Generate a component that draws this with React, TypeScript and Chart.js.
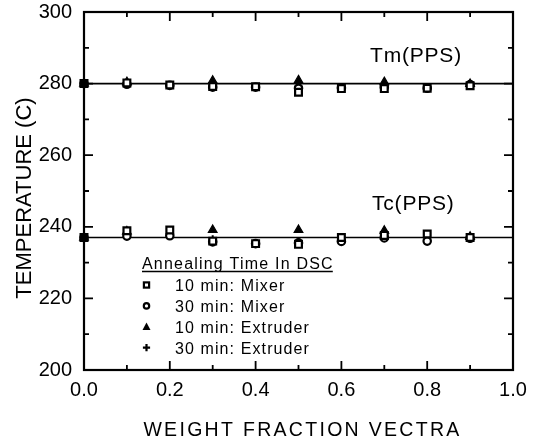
import React, { useEffect, useRef } from 'react';
import { Chart, registerables } from 'chart.js';

Chart.register(...registerables);

const FONT = '"Liberation Sans", Arial, Helvetica, sans-serif';

// ---- data ----
const mixerX = [0, 0.1, 0.2, 0.3, 0.4, 0.5, 0.6, 0.7, 0.8, 0.9];
const extruderX = [0, 0.1, 0.3, 0.5, 0.7, 0.9];

const tm10Mixer = [280.0, 280.2, 279.6, 279.2, 279.1, 277.6, 278.6, 278.6, 278.7, 279.4];
const tm30Mixer = [280.0, 279.8, 279.5, 279.0, 279.0, 278.7, 278.8, 279.0, 278.7, 279.7];
const tm10Extruder = [280.0, 280.4, 280.8, 280.9, 280.4, 279.9];
const tm30Extruder = [280.0, 280.0, 279.3, 279.2, 279.4, 279.5];

const tc10Mixer = [237.0, 238.9, 239.1, 236.0, 235.3, 235.1, 237.0, 237.6, 238.0, 237.0];
const tc30Mixer = [237.0, 237.4, 237.5, 235.8, 235.3, 235.5, 235.9, 236.9, 236.0, 236.8];
const tc10Extruder = [237.0, 238.7, 239.1, 239.1, 238.9, 237.2];
const tc30Extruder = [237.0, 238.0, 236.5, 236.0, 237.2, 236.7];

const fitX = [0, 1];
const tmFit = [280, 280];
const tcFit = [237, 237];

const seriesLabels = ['10 min: Mixer', '30 min: Mixer', '10 min: Extruder', '30 min: Extruder'];
const legendTitle = 'Annealing Time In DSC';
const curveLabels = ['Tm(PPS)', 'Tc(PPS)'];
const yTitle = 'TEMPERATURE (C)';
const xTitle = 'WEIGHT FRACTION VECTRA';

const yMin = 200;
const yMax = 300;
const yStep = 20;
const yMinor = 10;
const xMin = 0;
const xMax = 1;
const xStep = 0.2;
const xMinor = 0.1;

type Pt = { x: number; y: number };
const pts = (xs: number[], ys: number[]): Pt[] => xs.map((x, i) => ({ x, y: ys[i] }));

// pure PPS points (x = 0) print as a solid block where all markers overlap
const fillAtZero = (open: string) => (c: any) => (c.raw && c.raw.x === 0 ? '#000' : open);

const markerDefs = [
  { pointStyle: 'rect', pointRadius: 4.8, pointBorderWidth: 2.2, open: '#fff' },
  { pointStyle: 'circle', pointRadius: 3.7, pointBorderWidth: 2.2, open: '#fff' },
  { pointStyle: 'triangle', pointRadius: 5, pointBorderWidth: 1.2, open: '#000' },
  { pointStyle: 'cross', pointRadius: 4, pointBorderWidth: 2, open: '#000' },
];

function drawText(
  ctx: CanvasRenderingContext2D,
  text: string,
  x: number,
  y: number,
  size: number,
  spacing: number,
  align: CanvasTextAlign = 'left'
) {
  ctx.save();
  ctx.font = `${size}px ${FONT}`;
  (ctx as any).letterSpacing = `${spacing}px`;
  ctx.textAlign = align;
  ctx.textBaseline = 'alphabetic';
  ctx.fillStyle = '#000';
  ctx.fillText(text, x, y);
  const w = ctx.measureText(text).width;
  ctx.restore();
  return w;
}

const decorPlugin = {
  id: 'decor',
  beforeDatasetsDraw(chart: any) {
    const { ctx, chartArea } = chart;
    const xs = chart.scales.x;
    const ys = chart.scales.y;
    const { left, right, top, bottom } = chartArea;
    ctx.save();
    ctx.strokeStyle = '#000';
    ctx.lineWidth = 2.2;
    ctx.strokeRect(left, top, right - left, bottom - top);
    ctx.lineWidth = 1.8;
    for (let v = yMin + yMinor; v < yMax - 1e-9; v += yMinor) {
      const r = (v - yMin) / yStep;
      const major = Math.abs(r - Math.round(r)) < 1e-6;
      const len = major ? 9 : 5;
      const py = ys.getPixelForValue(v);
      ctx.beginPath();
      ctx.moveTo(left, py);
      ctx.lineTo(left + len, py);
      ctx.moveTo(right, py);
      ctx.lineTo(right - len, py);
      ctx.stroke();
    }
    for (let v = xMin + xMinor; v < xMax - 1e-9; v += xMinor) {
      const r = (v - xMin) / xStep;
      const major = Math.abs(r - Math.round(r)) < 1e-6;
      const len = major ? 9 : 5;
      const px = xs.getPixelForValue(v);
      ctx.beginPath();
      ctx.moveTo(px, bottom);
      ctx.lineTo(px, bottom - len);
      ctx.moveTo(px, top);
      ctx.lineTo(px, top + len);
      ctx.stroke();
    }
    ctx.restore();
  },
  afterDraw(chart: any) {
    const { ctx } = chart;
    drawText(ctx, curveLabels[0], 370, 61.5, 21, 0.8);
    drawText(ctx, curveLabels[1], 372, 210, 21, 0.8);

    const tw = drawText(ctx, legendTitle, 142, 268.5, 16, 1.2);
    ctx.save();
    ctx.strokeStyle = '#000';
    ctx.lineWidth = 1.3;
    ctx.beginPath();
    ctx.moveTo(142, 271.5);
    ctx.lineTo(142 + tw - 1, 271.5);
    ctx.stroke();
    ctx.restore();

    const rowStep = 20.9;
    seriesLabels.forEach((lab, i) => {
      const cy = 285 + i * rowStep;
      drawText(ctx, lab, 175, cy + 6, 16, 1.1);
      const mx = 146.5;
      ctx.save();
      ctx.strokeStyle = '#000';
      ctx.fillStyle = '#000';
      if (i === 0) {
        ctx.lineWidth = 2.2;
        ctx.strokeRect(mx - 2.6, cy - 2.6, 5.2, 5.2);
      } else if (i === 1) {
        ctx.lineWidth = 2.2;
        ctx.beginPath();
        ctx.arc(mx, cy, 2.7, 0, Math.PI * 2);
        ctx.stroke();
      } else if (i === 2) {
        ctx.beginPath();
        ctx.moveTo(mx, cy - 4.2);
        ctx.lineTo(mx + 4, cy + 3.2);
        ctx.lineTo(mx - 4, cy + 3.2);
        ctx.closePath();
        ctx.fill();
      } else {
        ctx.lineWidth = 2.2;
        ctx.beginPath();
        ctx.moveTo(mx - 3.6, cy);
        ctx.lineTo(mx + 3.6, cy);
        ctx.moveTo(mx, cy - 3.6);
        ctx.lineTo(mx, cy + 3.6);
        ctx.stroke();
      }
      ctx.restore();
    });

    drawText(ctx, xTitle, 302.5, 435.5, 19.5, 2.3, 'center');
    ctx.save();
    ctx.translate(30.5, 198);
    ctx.rotate(-Math.PI / 2);
    drawText(ctx, yTitle, 0, 0, 22, 0, 'center');
    ctx.restore();
  },
};

export default function App() {
  const ref = useRef<HTMLCanvasElement | null>(null);

  useEffect(() => {
    if (!ref.current) return;
    const groups = [
      [pts(mixerX, tm10Mixer), pts(mixerX, tm30Mixer), pts(extruderX, tm10Extruder), pts(extruderX, tm30Extruder)],
      [pts(mixerX, tc10Mixer), pts(mixerX, tc30Mixer), pts(extruderX, tc10Extruder), pts(extruderX, tc30Extruder)],
    ];
    const datasets: any[] = [];
    groups.forEach((g, gi) => {
      g.forEach((data, si) => {
        const m = markerDefs[si];
        datasets.push({
          label: `${gi === 0 ? 'Tm' : 'Tc'} ${seriesLabels[si]}`,
          data,
          showLine: false,
          borderColor: '#000',
          pointStyle: m.pointStyle,
          pointRadius: m.pointRadius,
          pointBorderWidth: m.pointBorderWidth,
          pointBorderColor: '#000',
          pointBackgroundColor: fillAtZero(m.open),
          clip: false,
          order: si,
        });
      });
    });
    [tmFit, tcFit].forEach((fit, i) => {
      datasets.push({
        label: `fit ${i}`,
        data: pts(fitX, fit),
        showLine: true,
        borderColor: '#000',
        borderWidth: 1.6,
        pointRadius: 0,
        clip: false,
        order: 20,
      });
    });

    const chart = new Chart(ref.current, {
      type: 'scatter',
      data: { datasets },
      options: {
        responsive: false,
        animation: false,
        events: [],
        layout: { padding: { left: 0, top: 12, right: 21, bottom: 0 } },
        plugins: { legend: { display: false }, tooltip: { enabled: false } },
        scales: {
          x: {
            type: 'linear',
            min: xMin,
            max: xMax,
            afterFit: (s: any) => {
              s.height = 72;
              s.paddingLeft = 0;
              s.paddingRight = 0;
            },
            grid: { display: false, drawTicks: false },
            border: { display: false },
            ticks: {
              stepSize: xStep,
              autoSkip: false,
              maxRotation: 0,
              padding: 8,
              color: '#000',
              font: { family: FONT, size: 20 },
              callback: (v: any) => Number(v).toFixed(1),
            },
          },
          y: {
            type: 'linear',
            min: yMin,
            max: yMax,
            afterFit: (s: any) => {
              s.width = 84;
              s.paddingTop = 0;
              s.paddingBottom = 0;
            },
            grid: { display: false, drawTicks: false },
            border: { display: false },
            ticks: {
              stepSize: yStep,
              autoSkip: false,
              padding: 12,
              color: '#000',
              font: { family: FONT, size: 20 },
            },
          },
        },
      },
      plugins: [decorPlugin],
    } as any);
    return () => chart.destroy();
  }, []);

  return (
    <div style={{ position: 'fixed', left: 0, top: 0, width: 534, height: 442, background: '#fff' }}>
      <canvas ref={ref} width={534} height={442} style={{ display: 'block', width: 534, height: 442 }} />
    </div>
  );
}
